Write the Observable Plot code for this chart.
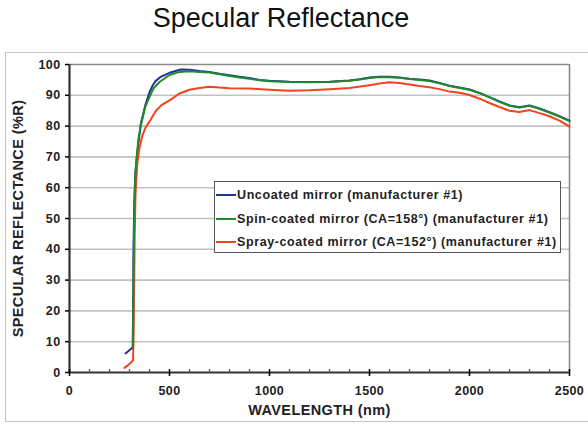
<!DOCTYPE html>
<html>
<head>
<meta charset="utf-8">
<script src="https://cdn.jsdelivr.net/npm/d3@7"></script>
<script src="https://cdn.jsdelivr.net/npm/@observablehq/plot@0.6"></script>
<style>
  html, body { margin: 0; padding: 0; background: #fff; width: 588px; height: 424px; overflow: hidden; }
  body { position: relative; font-family: "Liberation Sans", Arial, sans-serif; }
  #title { position: absolute; left: 0; top: 3px; width: 562px; text-align: center; font-size: 27px; color: #111; }
  #frame { position: absolute; left: 5px; top: 52px; width: 640px; height: 368px; border: 1px solid #c4c4c4; }
  #chart { position: absolute; left: 0; top: 52px; }
  #legend { position: absolute; left: 214px; top: 181px; width: 345px; height: 70px; border: 1px solid #555; background: #fff; }
  .row { position: absolute; left: 0; height: 16px; display: flex; align-items: center; font-size: 12.5px; letter-spacing: 0.6px; font-weight: bold; color: #222; white-space: nowrap; }
  .sw { width: 20px; height: 2px; margin-left: 1px; margin-right: 1px; }
</style>
</head>
<body>
<div id="title">Specular Reflectance</div>
<div id="frame"></div>
<div id="chart"></div>
<div id="legend"></div>
<script>
// ---- data ----
const seriesNames = [
  "Uncoated mirror (manufacturer #1)",
  "Spin-coated mirror (CA=158°) (manufacturer #1)",
  "Spray-coated mirror (CA=152°) (manufacturer #1)"
];
const seriesColors = ["#22349a", "#1f8a2e", "#f2421f"];

const uncoatedWl = [280, 295, 310, 316, 318, 320, 324, 330, 340, 356, 380, 400, 414, 430, 456, 500, 556, 600, 650, 700, 750, 800, 850, 900, 950, 1000, 1100, 1200, 1300, 1400, 1450, 1500, 1550, 1600, 1650, 1700, 1750, 1800, 1850, 1900, 1950, 2000, 2050, 2100, 2150, 2200, 2250, 2300, 2350, 2400, 2450, 2500];
const uncoatedR  = [6.2, 7.0, 7.8, 8.3, 20, 40, 56, 65.5, 72, 80.5, 87, 91, 93, 94.6, 96.0, 97.3, 98.4, 98.3, 97.9, 97.6, 97.0, 96.5, 96.0, 95.6, 95.0, 94.7, 94.4, 94.3, 94.4, 94.8, 95.2, 95.8, 96.0, 96.0, 95.8, 95.4, 95.1, 94.8, 94.0, 93.1, 92.5, 91.9, 90.8, 89.4, 88.0, 86.7, 86.1, 86.7, 85.7, 84.5, 83.2, 81.8];

const spinWl = [318, 320, 324, 330, 336, 345, 356, 380, 406, 420, 450, 500, 550, 600, 650, 700, 750, 800, 850, 900, 950, 1000, 1100, 1200, 1300, 1400, 1450, 1500, 1550, 1600, 1650, 1700, 1750, 1800, 1850, 1900, 1950, 2000, 2050, 2100, 2150, 2200, 2250, 2300, 2350, 2400, 2450, 2500];
const spinR  = [8, 30, 52, 65, 70, 76, 80, 86.5, 90.3, 92.3, 94.3, 96.6, 97.6, 97.8, 97.6, 97.4, 96.8, 96.3, 95.8, 95.4, 94.9, 94.6, 94.3, 94.2, 94.3, 94.7, 95.1, 95.6, 95.9, 95.9, 95.7, 95.3, 95.0, 94.6, 93.9, 93.0, 92.4, 91.8, 90.7, 89.3, 87.9, 86.6, 86.0, 86.6, 85.6, 84.4, 83.1, 81.6];

const sprayWl = [275, 295, 312, 318, 322, 326, 330, 339, 350, 365, 380, 405, 430, 460, 506, 550, 600, 650, 700, 750, 800, 900, 1000, 1100, 1200, 1300, 1400, 1500, 1550, 1600, 1650, 1700, 1750, 1800, 1850, 1900, 1950, 2000, 2050, 2100, 2150, 2200, 2250, 2300, 2350, 2400, 2450, 2500];
const sprayR  = [1.5, 2.5, 3.5, 4, 20, 45, 58, 68, 73, 77, 79.5, 82, 84.8, 86.8, 88.6, 90.6, 91.8, 92.4, 92.8, 92.5, 92.3, 92.2, 91.8, 91.5, 91.6, 92.0, 92.4, 93.3, 93.8, 94.2, 94.0, 93.5, 93.0, 92.6, 92.0, 91.2, 90.8, 90.1, 88.9, 87.5, 86.2, 85.0, 84.6, 85.2, 84.2, 83.2, 81.8, 79.8];

const yTicks = [0, 10, 20, 30, 40, 50, 60, 70, 80, 90, 100];
const yGrid = [10, 20, 30, 40, 50, 60, 70, 80, 90];
const xTicks = [0, 500, 1000, 1500, 2000, 2500];
const xMinor = [100, 200, 300, 400, 600, 700, 800, 900, 1100, 1200, 1300, 1400, 1600, 1700, 1800, 1900, 2100, 2200, 2300, 2400];

const xLabel = "WAVELENGTH (nm)";
const yLabel = "SPECULAR REFLECTANCE (%R)";

// ---- build table ----
function rows(wl, r, s) { return wl.map((w, i) => ({wl: w, r: r[i], s})); }
const data = [
  ...rows(uncoatedWl, uncoatedR, seriesNames[0]),
  ...rows(sprayWl, sprayR, seriesNames[2]),
  ...rows(spinWl, spinR, seriesNames[1])
];

const font = { fontSize: 12.5, fontWeight: "bold", fill: "#222" };

const chart = Plot.plot({
  width: 588,
  height: 372,
  marginTop: 12,
  marginLeft: 69,
  marginRight: 19,
  marginBottom: 52,
  style: { fontFamily: "Liberation Sans, Arial, sans-serif", background: "transparent", overflow: "visible", letterSpacing: "0.4px" },
  x: { domain: [0, 2500] },
  y: { domain: [0, 100] },
  color: { domain: seriesNames, range: seriesColors },
  marks: [
    Plot.ruleY(yGrid, { stroke: "#c2c2c2", strokeWidth: 1.6 }),
    Plot.ruleY([100], { stroke: "#8a8a8a", strokeWidth: 1.6 }),
    Plot.ruleX([2500], { stroke: "#8a8a8a", strokeWidth: 1.6 }),
    Plot.line(data.filter(d => d.s === seriesNames[0]), { x: "wl", y: "r", stroke: "s", strokeWidth: 2, curve: "linear" }),
    Plot.line(data.filter(d => d.s === seriesNames[2]), { x: "wl", y: "r", stroke: "s", strokeWidth: 2, curve: "linear" }),
    Plot.line(data.filter(d => d.s === seriesNames[1]), { x: "wl", y: "r", stroke: "s", strokeWidth: 2, curve: "linear" }),
    Plot.ruleX([0], { stroke: "#333", strokeWidth: 2.2 }),
    Plot.ruleY([0], { stroke: "#333", strokeWidth: 2.2 }),
    Plot.axisY({ ticks: yTicks, tickSize: 4, tickPadding: 5, tickFormat: d => String(d), label: null, strokeWidth: 1.5, ...font }),
    Plot.axisX({ ticks: xTicks, tickSize: 4, tickPadding: 10, tickFormat: d => String(d), label: null, strokeWidth: 1.5, ...font }),
    Plot.axisX({ ticks: xTicks, tickSize: 3, dy: -3, text: null, label: null, strokeWidth: 1.5 }),
    Plot.axisX({ ticks: xMinor, tickSize: 3, dy: -3, text: null, label: null, strokeWidth: 1.3, stroke: "#555" }),
    Plot.text([xLabel], { frameAnchor: "bottom", lineAnchor: "middle", textAnchor: "middle", dy: 38, fontSize: 14.5, fontWeight: "bold", fill: "#222" }),
    Plot.text([yLabel], { frameAnchor: "left", lineAnchor: "middle", textAnchor: "middle", dx: -51, rotate: -90, fontSize: 14.5, fontWeight: "bold", fill: "#222" })
  ]
});
document.getElementById("chart").appendChild(chart);

// ---- legend ----
const legend = document.getElementById("legend");
const rowTops = [5, 29, 52];
seriesNames.forEach((name, i) => {
  const row = document.createElement("div");
  row.className = "row";
  row.style.top = rowTops[i] + "px";
  const sw = document.createElement("span");
  sw.className = "sw";
  sw.style.background = seriesColors[i];
  const t = document.createElement("span");
  t.textContent = name;
  row.appendChild(sw);
  row.appendChild(t);
  legend.appendChild(row);
});
</script>
</body>
</html>
